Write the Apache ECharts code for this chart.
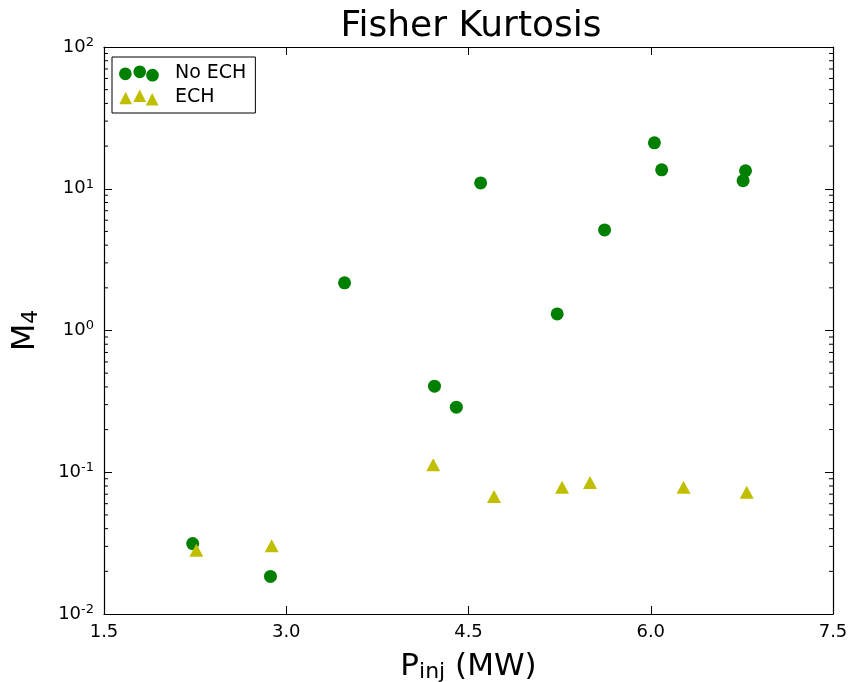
<!DOCTYPE html>
<html>
<head>
<meta charset="utf-8">
<script src="https://cdn.jsdelivr.net/npm/echarts@6/dist/echarts.min.js"></script>
<style>html,body{margin:0;padding:0;background:#fff;}#c{width:850px;height:682px;}</style>
</head>
<body>
<div id="c"></div>
<script>
// ---- data ----
const titleText = 'Fisher Kurtosis';
const seriesNames = ['No ECH', 'ECH'];
const noEchX = [2.23, 2.87, 3.48, 4.22, 4.40, 4.60, 5.23, 5.62, 6.03, 6.09, 6.76, 6.78];
const noEchY = [0.0314, 0.0184, 2.17, 0.405, 0.288, 11.0, 1.31, 5.12, 21.1, 13.6, 11.4, 13.4];
const echX = [2.26, 2.88, 4.21, 4.71, 5.27, 5.50, 6.27, 6.79];
const echY = [0.0282, 0.0303, 0.113, 0.0675, 0.0785, 0.0845, 0.0785, 0.0724];
const xTickMin = 1.5, xTickMax = 7.5, xTickStep = 1.5;
const yMin = 0.01, yMax = 100;
const yMinorTicks = [0.02,0.03,0.04,0.05,0.06,0.07,0.08,0.09,
                     0.2,0.3,0.4,0.5,0.6,0.7,0.8,0.9,
                     2,3,4,5,6,7,8,9,
                     20,30,40,50,60,70,80,90];

const FONT = 'DejaVu Sans';
const chart = echarts.init(document.getElementById('c'), null, {renderer: 'canvas'});

const circleIcon = 'path://M0,8.3a6.3,6.3 0 1,0 12.6,0a6.3,6.3 0 1,0 -12.6,0Z M14.3,6.3a6.3,6.3 0 1,0 12.6,0a6.3,6.3 0 1,0 -12.6,0Z M27,9.6a6.3,6.3 0 1,0 12.6,0a6.3,6.3 0 1,0 -12.6,0Z';
const triIcon = 'path://M6.5,2.3L13,15L0,15Z M20.8,0L27.3,12.7L14.3,12.7Z M33.5,3.6L40,16.3L27,16.3Z';

function supLabel(v) {
  const e = Math.round(Math.log10(v));
  return '{b|10}{s|' + (e < 0 ? '-' + (-e) : e) + '}';
}

const tickCommon = {show: true, inside: true, length: 8, lineStyle: {color: '#000', width: 1}};
const lineCommon = {show: true, onZero: false, lineStyle: {color: '#000', width: 1.2}};

const option = {
  backgroundColor: '#fff',
  animation: false,
  title: {
    text: titleText, left: 466, top: 4, textAlign: 'center',
    textStyle: {fontFamily: FONT, fontSize: 36, fontWeight: 'normal', color: '#000'}
  },
  grid: {left: 104, right: 17, top: 47, bottom: 68, containLabel: false, outerBoundsMode: 'none'},
  legend: {
    orient: 'vertical', left: 112, top: 57,
    padding: [7, 9, 6, 7], itemGap: 5, itemWidth: 40, itemHeight: 16,
    borderColor: '#000', borderWidth: 1, borderRadius: 0, backgroundColor: '#fff',
    textStyle: {fontFamily: FONT, fontSize: 19, color: '#000', padding: [0, 0, 0, 11]},
    data: [
      {name: seriesNames[0], icon: circleIcon},
      {name: seriesNames[1], icon: triIcon}
    ]
  },
  xAxis: [
    {
      type: 'value', position: 'bottom', min: xTickMin, max: xTickMax, interval: xTickStep,
      axisLine: lineCommon, axisTick: tickCommon, splitLine: {show: false},
      axisLabel: {margin: 9, fontFamily: FONT, fontSize: 18, color: '#000',
                  formatter: v => v.toFixed(1)},
      name: '{m|P}{s|inj}{m| (MW)}', nameLocation: 'middle', nameGap: 37,
      nameTextStyle: {rich: {
        m: {fontFamily: FONT, fontSize: 31, color: '#000'},
        s: {fontFamily: FONT, fontSize: 22, color: '#000', padding: [10, 0, 0, 0]}
      }}
    },
    {
      type: 'value', position: 'top', min: xTickMin, max: xTickMax, interval: xTickStep,
      axisLine: lineCommon, axisTick: tickCommon, splitLine: {show: false},
      axisLabel: {show: false}
    }
  ],
  yAxis: [
    {
      type: 'log', logBase: 10, position: 'left', min: yMin, max: yMax,
      axisLine: lineCommon, axisTick: tickCommon, splitLine: {show: false},
      axisLabel: {margin: 10, formatter: supLabel, rich: {
        b: {fontFamily: FONT, fontSize: 18, color: '#000'},
        s: {fontFamily: FONT, fontSize: 13, color: '#000', padding: [0, 0, 9, 0]}
      }},
      name: '{m|M}{s|4}', nameLocation: 'middle', nameGap: 62, nameRotate: 90,
      nameTextStyle: {rich: {
        m: {fontFamily: FONT, fontSize: 32, color: '#000'},
        s: {fontFamily: FONT, fontSize: 22, color: '#000', padding: [10, 0, 0, 0]}
      }}
    },
    {
      type: 'log', logBase: 10, position: 'right', min: yMin, max: yMax,
      axisLine: lineCommon, axisTick: tickCommon, splitLine: {show: false},
      axisLabel: {show: false}
    }
  ],
  series: [
    {
      name: seriesNames[0], type: 'scatter', symbol: 'circle', symbolSize: 13,
      itemStyle: {color: '#008000', opacity: 1},
      data: noEchX.map((x, i) => [x, noEchY[i]]), z: 3
    },
    {
      name: seriesNames[1], type: 'scatter', symbol: 'triangle', symbolSize: [14, 13],
      itemStyle: {color: '#bfbf00', opacity: 1},
      data: echX.map((x, i) => [x, echY[i]]), z: 3
    },
    {
      name: 'minorTicks', type: 'custom', silent: true, z: 2,
      data: yMinorTicks.map(v => [xTickMin, v]),
      renderItem: function (params, api) {
        const v = api.value(1);
        const pl = api.coord([xTickMin, v]);
        const pr = api.coord([xTickMax, v]);
        return {
          type: 'group', children: [
            {type: 'line', shape: {x1: pl[0], y1: pl[1], x2: pl[0] + 4, y2: pl[1]},
             style: {stroke: '#000', lineWidth: 1}},
            {type: 'line', shape: {x1: pr[0], y1: pr[1], x2: pr[0] - 4, y2: pr[1]},
             style: {stroke: '#000', lineWidth: 1}}
          ]
        };
      }
    }
  ]
};
chart.setOption(option);
</script>
</body>
</html>
